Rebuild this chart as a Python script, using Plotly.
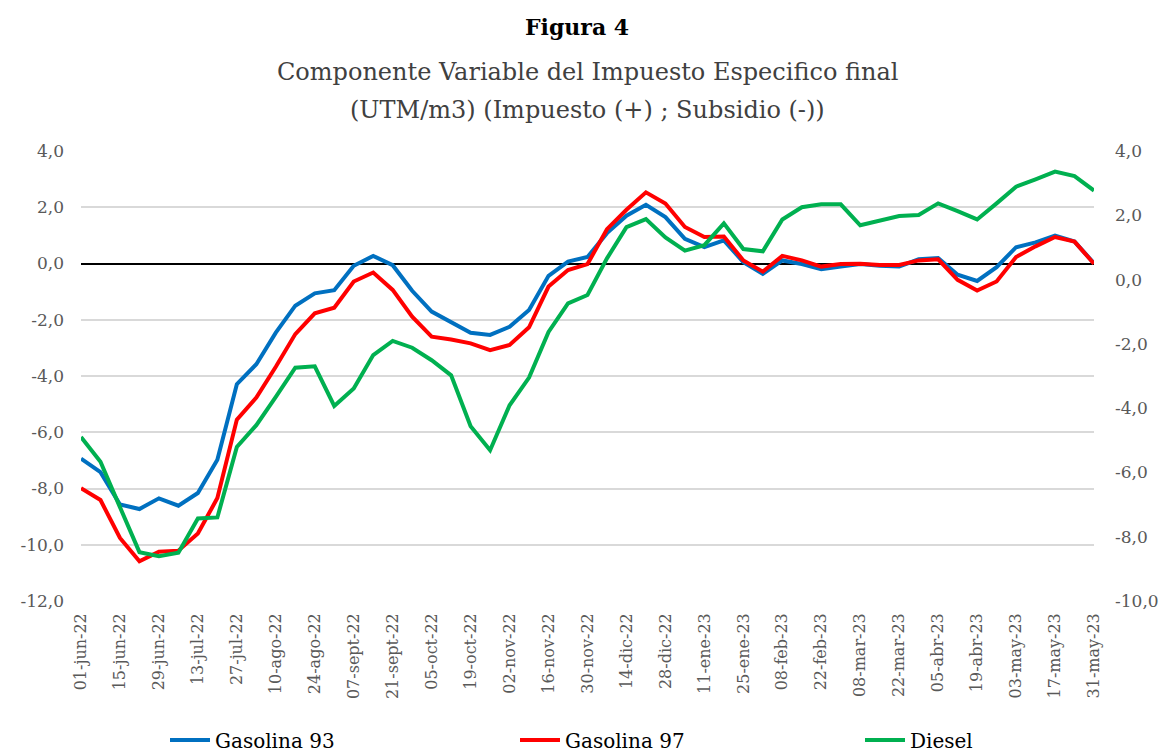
import plotly.graph_objects as go

tick_labels = ["01-jun-22", "15-jun-22", "29-jun-22", "13-jul-22", "27-jul-22", "10-ago-22",
               "24-ago-22", "07-sept-22", "21-sept-22", "05-oct-22", "19-oct-22", "02-nov-22",
               "16-nov-22", "30-nov-22", "14-dic-22", "28-dic-22", "11-ene-23", "25-ene-23",
               "08-feb-23", "22-feb-23", "08-mar-23", "22-mar-23", "05-abr-23", "19-abr-23",
               "03-may-23", "17-may-23", "31-may-23"]

left_ticks = [4, 2, 0, -2, -4, -6, -8, -10, -12]
left_tick_text = ["4,0", "2,0", "0,0", "-2,0", "-4,0", "-6,0", "-8,0", "-10,0", "-12,0"]
right_ticks = [4, 2, 0, -2, -4, -6, -8, -10]
right_tick_text = ["4,0", "2,0", "0,0", "-2,0", "-4,0", "-6,0", "-8,0", "-10,0"]

gasolina93 = [-6.94, -7.42, -8.57, -8.73, -8.35, -8.61, -8.16, -6.98, -4.29, -3.58,
              -2.46, -1.50, -1.06, -0.95, -0.08, 0.27, -0.06, -0.97, -1.71, -2.10,
              -2.46, -2.54, -2.25, -1.65, -0.44, 0.07, 0.23, 1.08, 1.70, 2.09,
              1.65, 0.88, 0.58, 0.82, 0.05, -0.37, 0.11, -0.02, -0.20, -0.11,
              -0.02, -0.08, -0.11, 0.15, 0.19, -0.40, -0.62, -0.13, 0.58, 0.75,
              0.99, 0.78, 0.01]

gasolina97 = [-7.99, -8.41, -9.76, -10.59, -10.25, -10.21, -9.60, -8.34, -5.55, -4.77,
              -3.67, -2.51, -1.77, -1.57, -0.64, -0.32, -0.94, -1.89, -2.60, -2.70,
              -2.84, -3.08, -2.90, -2.27, -0.82, -0.23, -0.02, 1.22, 1.91, 2.53,
              2.13, 1.30, 0.94, 0.96, 0.11, -0.29, 0.27, 0.11, -0.11, -0.02,
              -0.01, -0.05, -0.05, 0.11, 0.15, -0.58, -0.96, -0.64, 0.23, 0.61,
              0.94, 0.78, -0.01]

diesel = [-4.90, -5.67, -7.08, -8.48, -8.61, -8.50, -7.43, -7.40, -5.21, -4.53,
          -3.65, -2.74, -2.70, -3.93, -3.39, -2.35, -1.91, -2.12, -2.51, -2.98,
          -4.56, -5.31, -3.91, -3.05, -1.63, -0.74, -0.48, 0.66, 1.63, 1.88,
          1.31, 0.90, 1.07, 1.75, 0.95, 0.88, 1.87, 2.25, 2.34, 2.34,
          1.69, 1.85, 1.98, 2.01, 2.37, 2.13, 1.87, 2.37, 2.89, 3.12,
          3.36, 3.22, 2.77]

x = list(range(len(gasolina93)))
tickvals = list(range(0, len(x), 2))

FONT = "DejaVu Serif"
OFF = 8  # page body margin in the browser
W, H = 1167 - OFF, 754 - OFF
ML, MR, MT, MB = 81 - OFF, 73, 151 - OFF, 153
PW, PH = W - ML - MR, H - MT - MB


def px_x(v):
    return (v - OFF - ML) / PW


def px_y(v):
    return (H - MB - (v - OFF)) / PH


fig = go.Figure()
fig.add_trace(go.Scatter(x=x, y=gasolina93, name="Gasolina 93", mode="lines",
                         line=dict(color="#0070C0", width=4), legend="legend"))
fig.add_trace(go.Scatter(x=x, y=gasolina97, name="Gasolina 97", mode="lines",
                         line=dict(color="#FF0000", width=4), legend="legend2"))
fig.add_trace(go.Scatter(x=x, y=diesel, name="Diesel", mode="lines", yaxis="y2",
                         line=dict(color="#00B050", width=4), legend="legend3"))

leg_common = dict(orientation="h", yanchor="middle", xanchor="left",
                  font=dict(family=FONT, size=20, color="black"),
                  itemwidth=40, bgcolor="rgba(0,0,0,0)")

fig.update_layout(
    width=W, height=H,
    margin=dict(l=ML, r=MR, t=MT, b=MB, autoexpand=False),
    paper_bgcolor="white", plot_bgcolor="white",
    font=dict(family=FONT, color="#595959", size=17),
    showlegend=True,
    legend=dict(x=px_x(165), y=px_y(740), **leg_common),
    legend2=dict(x=px_x(515), y=px_y(740), **leg_common),
    legend3=dict(x=px_x(860), y=px_y(740), **leg_common),
    xaxis=dict(range=[0, 52], tickvals=tickvals, ticktext=tick_labels, tickangle=-90,
               showgrid=False, zeroline=False, showline=False, ticks="",
               automargin=False, ticklabelstandoff=8,
               tickfont=dict(family=FONT, size=16, color="#595959")),
    yaxis=dict(range=[-12, 4], tickvals=left_ticks, ticktext=left_tick_text,
               showgrid=True, gridcolor="#D9D9D9", gridwidth=1.5,
               zeroline=True, zerolinecolor="black", zerolinewidth=1.5,
               showline=False, ticks="", automargin=False, ticklabelstandoff=16,
               tickfont=dict(family=FONT, size=17, color="#595959")),
    yaxis2=dict(range=[-10, 4], tickvals=right_ticks, ticktext=right_tick_text,
                overlaying="y", side="right", showgrid=False, zeroline=False,
                showline=False, ticks="", automargin=False, ticklabelstandoff=20,
                tickfont=dict(family=FONT, size=17, color="#595959")),
    annotations=[
        dict(text="<b>Figura 4</b>", x=px_x(577), y=px_y(27), xref="paper", yref="paper",
             xanchor="center", yanchor="middle", showarrow=False,
             font=dict(family=FONT, size=22, color="black")),
        dict(text="Componente Variable del Impuesto Especifico final",
             x=px_x(587), y=px_y(72), xref="paper", yref="paper",
             xanchor="center", yanchor="middle", showarrow=False,
             font=dict(family=FONT, size=24, color="#404040")),
        dict(text="(UTM/m3) (Impuesto (+) ; Subsidio (-))",
             x=px_x(587), y=px_y(110), xref="paper", yref="paper",
             xanchor="center", yanchor="middle", showarrow=False,
             font=dict(family=FONT, size=24, color="#404040")),
    ],
)

fig.write_html("out.html")
